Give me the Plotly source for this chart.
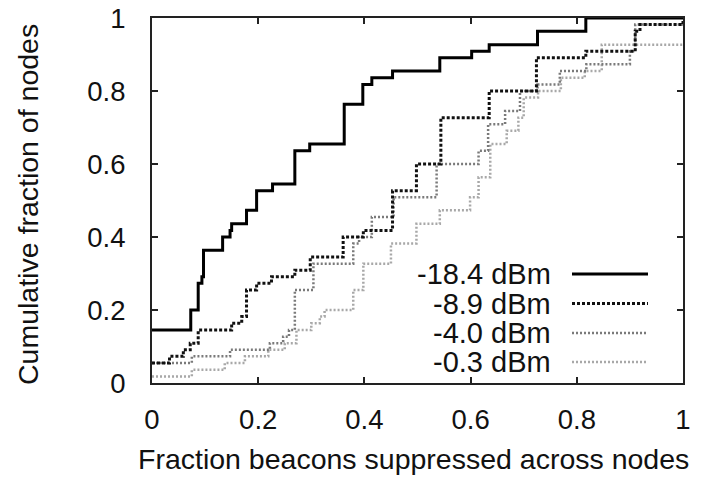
import plotly.graph_objects as go

# -18.4 dBm (solid)
s184_x = [0, 0.073, 0.087, 0.094, 0.097, 0.133, 0.147, 0.15, 0.178, 0.197, 0.227, 0.269, 0.297,
          0.362, 0.397, 0.414, 0.453, 0.542, 0.602, 0.635, 0.726, 0.817, 1.0]
s184_y = [0.145, 0.2, 0.273, 0.291, 0.364, 0.4, 0.418, 0.436, 0.473, 0.527, 0.545, 0.636, 0.655,
          0.764, 0.818, 0.836, 0.855, 0.891, 0.909, 0.927, 0.964, 1.0, 1.0]

# -8.9 dBm
s89_x = [0, 0.033, 0.059, 0.072, 0.087, 0.15, 0.169, 0.178, 0.197, 0.225, 0.269, 0.298, 0.36,
         0.398, 0.453, 0.498, 0.544, 0.635, 0.724, 0.817, 0.91, 0.919, 1.0]
s89_y = [0.055, 0.073, 0.091, 0.109, 0.145, 0.164, 0.182, 0.255, 0.273, 0.291, 0.309, 0.345, 0.4,
         0.418, 0.527, 0.6, 0.727, 0.8, 0.891, 0.909, 0.964, 0.982, 1.0]

# -4.0 dBm
s40_x = [0, 0.075, 0.147, 0.222, 0.247, 0.258, 0.269, 0.304, 0.379, 0.39, 0.414, 0.455, 0.536,
         0.615, 0.633, 0.665, 0.693, 0.726, 0.768, 0.818, 0.9, 0.91, 1.0]
s40_y = [0.055, 0.073, 0.091, 0.109, 0.127, 0.145, 0.255, 0.327, 0.382, 0.4, 0.455, 0.509, 0.6,
         0.636, 0.709, 0.745, 0.8, 0.818, 0.855, 0.873, 0.909, 0.982, 0.982]

# -0.3 dBm
s03_x = [0, 0.075, 0.137, 0.175, 0.219, 0.25, 0.272, 0.3, 0.316, 0.325, 0.379, 0.398, 0.45,
         0.498, 0.542, 0.599, 0.615, 0.637, 0.668, 0.69, 0.7, 0.727, 0.77, 0.815, 0.847, 1.0]
s03_y = [0.018, 0.036, 0.055, 0.073, 0.091, 0.109, 0.145, 0.164, 0.182, 0.2, 0.255, 0.327, 0.382,
         0.436, 0.473, 0.509, 0.564, 0.655, 0.691, 0.727, 0.782, 0.8, 0.836, 0.855, 0.927, 0.927]

series_names = ["-18.4 dBm", "-8.9 dBm", "-4.0 dBm", "-0.3 dBm"]
tick_vals = [0, 0.2, 0.4, 0.6, 0.8, 1]
tick_text = ["0", "0.2", "0.4", "0.6", "0.8", "1"]

styles = [
    dict(color="#000000", width=3, dash="solid"),
    dict(color="#111111", width=3, dash="3px,2px"),
    dict(color="#7a7a7a", width=2.5, dash="2px,2px"),
    dict(color="#a8a8a8", width=2.5, dash="2px,2px"),
]
data = [(s03_x, s03_y), (s40_x, s40_y), (s89_x, s89_y), (s184_x, s184_y)]
order = [3, 2, 1, 0]

FONT = "Liberation Sans, Arial, Helvetica, sans-serif"
TXT = "#111"
fig = go.Figure()
for (xs, ys), i in zip(data, order):
    fig.add_trace(go.Scatter(x=xs, y=ys, mode="lines", line_shape="hv",
                             line=styles[i], name=series_names[i], showlegend=False))

L, R, T, B = 152, 34, 18, 95
W, H = 717, 478
axis_common = dict(range=[0, 1], tickvals=tick_vals, ticktext=tick_text, ticks="inside",
                   ticklen=6, tickwidth=1.5, tickcolor="#222", showgrid=False, zeroline=False,
                   showline=True, linecolor="#222", linewidth=2, mirror="allticks",
                   tickfont=dict(family=FONT, size=27.5, color=TXT))
fig.update_xaxes(**axis_common, ticklabelstandoff=11)
fig.update_yaxes(**axis_common, ticklabelstandoff=19)

# custom legend (text left, sample line right)
pw = W - L - R
ph = H - T - B
leg_text_x = (553 - L) / pw
leg_line_x0 = (572 - L) / pw
leg_line_x1 = (648 - L) / pw
leg_ys = [(H - B - 274) / ph, (H - B - 303.5) / ph, (H - B - 333) / ph, (H - B - 362) / ph]
annotations = []
shapes = []
for i, name in enumerate(series_names):
    annotations.append(dict(x=leg_text_x, y=leg_ys[i], xref="paper", yref="paper", text=name,
                            showarrow=False, xanchor="right", yanchor="middle",
                            font=dict(family=FONT, size=29, color=TXT)))
    st = styles[i]
    shapes.append(dict(type="line", xref="paper", yref="paper", x0=leg_line_x0, x1=leg_line_x1,
                       y0=leg_ys[i], y1=leg_ys[i],
                       line=dict(color=st["color"], width=st["width"], dash=st["dash"])))

annotations.append(dict(x=(413 - L) / pw, y=(H - B - 459) / ph, xref="paper", yref="paper",
                        text="Fraction beacons suppressed across nodes", showarrow=False,
                        xanchor="center", yanchor="middle",
                        font=dict(family=FONT, size=28.5, color=TXT)))
annotations.append(dict(x=(28 - L) / pw, y=(H - B - 205) / ph, xref="paper", yref="paper",
                        text="Cumulative fraction of nodes", showarrow=False, textangle=-90,
                        xanchor="center", yanchor="middle",
                        font=dict(family=FONT, size=28.5, color=TXT)))

fig.update_layout(width=W, height=H, margin=dict(l=L, r=R, t=T, b=B, autoexpand=False),
                  plot_bgcolor="white", paper_bgcolor="white", showlegend=False,
                  annotations=annotations, shapes=shapes)
fig.write_html("out.html", config={"displayModeBar": False},
               post_script="document.body.style.margin='0';document.body.style.padding='0';")
